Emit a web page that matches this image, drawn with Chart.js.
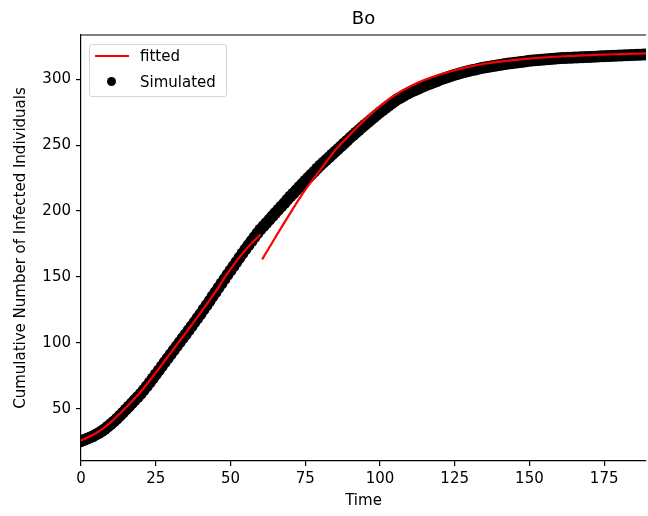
<!DOCTYPE html>
<html>
<head>
<meta charset="utf-8">
<script src="https://cdn.jsdelivr.net/npm/chart.js@4/dist/chart.umd.min.js"></script>
<style>
  html, body { margin: 0; padding: 0; background: #fff; overflow: hidden; }
  #wrap { position: relative; width: 648px; height: 516px; overflow: hidden; }
  #legend {
    position: absolute; left: 89px; top: 44px; width: 136px; height: 51px;
    border: 1px solid #d6d6d6; border-radius: 3px; background: rgba(255,255,255,0.8);
    font-family: "DejaVu Sans", sans-serif; font-size: 15px; color: #000;
  }
  .row { position: absolute; left: 50px; line-height: 18px; }
  .swatch-line { position: absolute; left: 5px; top: 10px; width: 34px; height: 2px; background: #ff0000; }
  .swatch-dot { position: absolute; left: 17px; top: 32px; width: 9px; height: 9px; border-radius: 50%; background: #000; }
</style>
</head>
<body>
<div id="wrap">
  <canvas id="myChart" width="652" height="516" style="width:652px;height:516px"></canvas>
  <div id="legend">
    <div class="swatch-line"></div>
    <div class="row" id="lab0" style="top:2px"></div>
    <div class="swatch-dot"></div>
    <div class="row" id="lab1" style="top:28px"></div>
  </div>
</div>
<script>
const chartTitle = "Bo"
const xTitle = "Time"
const yTitle = "Cumulative Number of Infected Individuals"
const xTicks = [0, 25, 50, 75, 100, 125, 150, 175]
const yTicks = [50, 100, 150, 200, 250, 300]

// simulated (black dots), one value per time step 0..189
const simValues = [
  25.5, 26.4, 27.3, 28.3, 29.3, 30.5, 31.8, 33.2, 34.8, 36.6,
  38.5, 40.5, 42.6, 44.8, 47.1, 49.5, 51.9, 54.3, 56.7, 59.1,
  61.5, 64.3, 67.1, 70.0, 73.0, 76.0, 79.1, 82.2, 85.3, 88.4,
  91.5, 94.5, 97.5, 100.5, 103.5, 106.5, 109.6, 112.7, 115.8, 118.9,
  122.0, 125.3, 128.6, 131.9, 135.2, 138.5, 141.8, 145.1, 148.4, 151.7,
  155.0, 158.2, 161.4, 164.6, 167.8, 171.0, 174.1, 177.1, 180.1, 183.1,
  186.0, 188.5, 191.0, 193.5, 196.0, 198.5, 201.0, 203.5, 206.0, 208.5,
  211.0, 213.4, 215.8, 218.2, 220.6, 223.0, 225.3, 227.6, 229.9, 232.2,
  234.5, 236.6, 238.7, 240.8, 242.9, 245.0, 247.1, 249.2, 251.3, 253.4,
  255.5, 257.5, 259.5, 261.5, 263.5, 265.5, 267.4, 269.3, 271.2, 273.1,
  275.0, 276.7, 278.4, 280.1, 281.8, 283.5, 284.9, 286.2, 287.5, 288.7,
  289.9, 291.0, 292.0, 293.0, 294.0, 295.0, 295.9, 296.8, 297.6, 298.4,
  299.5, 300.3, 301.1, 301.9, 302.6, 303.3, 304.0, 304.6, 305.2, 305.8,
  306.4, 306.9, 307.4, 307.9, 308.4, 308.8, 309.2, 309.6, 310.0, 310.4,
  310.8, 311.2, 311.5, 311.8, 312.1, 312.4, 312.7, 313.0, 313.3, 313.6,
  313.9, 314.1, 314.3, 314.5, 314.7, 314.9, 315.1, 315.3, 315.5, 315.7,
  315.9, 316.0, 316.1, 316.2, 316.3, 316.4, 316.5, 316.6, 316.7, 316.8,
  316.9, 317.0, 317.1, 317.2, 317.3, 317.4, 317.5, 317.6, 317.7, 317.8,
  317.9, 318.0, 318.1, 318.2, 318.3, 318.4, 318.5, 318.6, 318.7, 318.8
]
const simTime = simValues.map((v, i) => i)

// fitted curve, two pieces split by a gap near t=60
const fitTime = [0,5,10,15,20,25,30,35,40,45,50,55,60.1,60.3,60.6,65,70,75,80,85,90,95,100,105,110,115,120,125,130,135,140,150,160,170,180,189]
const fitValues = [26,31.5,40,51,63,77.5,92.5,107.5,123,139,156,170.5,182.5,null,163.4,180,198.5,216,231,246,258,269.5,279.5,288,294.5,299.5,303.5,306.8,309.5,311.7,313.3,315.6,317.2,318.3,319,319.5]

const labels = ["fitted", "Simulated"]
document.getElementById("lab0").textContent = labels[0]
document.getElementById("lab1").textContent = labels[1]

const font = { family: "DejaVu Sans", size: 15 }

const topSpine = {
  id: "topSpine",
  afterDraw(chart) {
    const { ctx, chartArea } = chart
    ctx.save()
    ctx.strokeStyle = "#000"
    ctx.lineWidth = 1.2
    ctx.beginPath()
    ctx.moveTo(chartArea.left, chartArea.top)
    ctx.lineTo(chartArea.right, chartArea.top)
    ctx.stroke()
    ctx.restore()
  }
}

const ctx = document.getElementById("myChart").getContext("2d")
const myChart = new Chart(ctx, {
  type: "scatter",
  data: {
    datasets: [
      {
        label: labels[0],
        type: "line",
        order: -1,
        data: fitTime.map((t, i) => ({ x: t, y: fitValues[i] })),
        borderColor: "#ff0000",
        borderWidth: 2.2,
        pointRadius: 0,
        spanGaps: false,
        cubicInterpolationMode: "monotone",
        fill: false,
      },
      {
        label: labels[1],
        order: 1,
        data: simTime.map((t, i) => ({ x: t, y: simValues[i] })),
        backgroundColor: "#000",
        borderWidth: 0,
        pointRadius: 6,
      },
    ],
  },
  options: {
    responsive: false,
    animation: false,
    devicePixelRatio: 1,
    events: [],
    layout: { padding: 0 },
    plugins: {
      legend: { display: false },
      tooltip: { enabled: false },
      title: {
        display: true,
        text: chartTitle,
        fullSize: false,
        color: "#000",
        font: { family: "DejaVu Sans", size: 18, weight: "normal" },
        padding: { top: 9, bottom: 4.4 },
      },
    },
    scales: {
      x: {
        type: "linear",
        min: 0,
        max: 189,
        afterFit: (s) => { s.height = 55 },
        afterBuildTicks: (s) => { s.ticks = xTicks.map((v) => ({ value: v })) },
        grid: { display: true, drawOnChartArea: false, drawTicks: true, tickLength: 5, color: "#000", lineWidth: 1.2 },
        border: { display: true, color: "#000", width: 1.2 },
        ticks: { color: "#000", font: font, padding: 4, maxRotation: 0 },
        title: { display: true, text: xTitle, color: "#000", font: font, padding: 6 },
      },
      y: {
        min: 10.5,
        max: 333.5,
        afterFit: (s) => { s.width = 81 },
        afterBuildTicks: (s) => { s.ticks = yTicks.map((v) => ({ value: v })) },
        grid: { display: true, drawOnChartArea: false, drawTicks: true, tickLength: 5, color: "#000", lineWidth: 1.2 },
        border: { display: true, color: "#000", width: 1.2 },
        ticks: { color: "#000", font: font, padding: 5 },
        title: { display: true, text: yTitle, color: "#000", font: font, padding: 12 },
      },
    },
  },
  plugins: [topSpine],
})
</script>
</body>
</html>
